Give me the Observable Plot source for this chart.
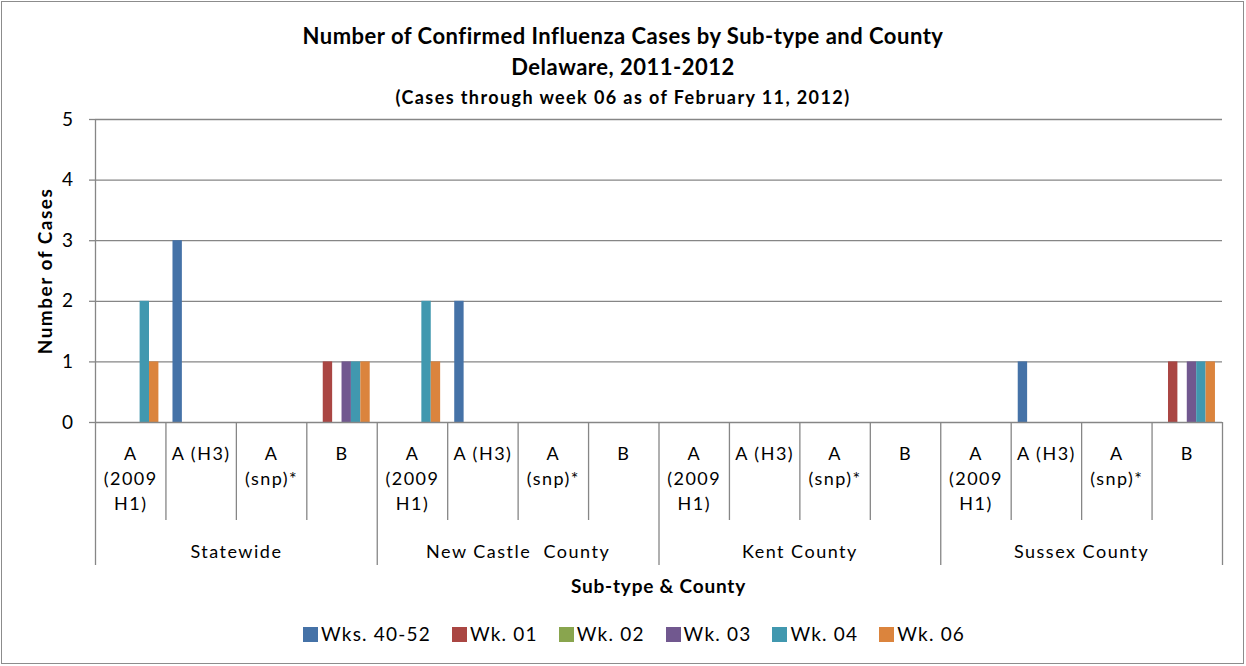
<!DOCTYPE html>
<html>
<head>
<meta charset="utf-8">
<script src="https://cdn.jsdelivr.net/npm/d3@7"></script>
<script src="https://cdn.jsdelivr.net/npm/@observablehq/plot@0.6"></script>
<style>
  html, body { margin: 0; padding: 0; background: #fff; }
  body { width: 1246px; height: 666px; position: relative; overflow: hidden; font-family: Lato, "Open Sans", sans-serif; color: #000; }
  #border { position: absolute; left: 1px; top: 1px; width: 1241px; height: 661px; border: 1px solid #8c8c8c; }
  #title { position: absolute; left: 0; top: 20px; width: 1246px; text-align: center; font-weight: bold; }
  #title div { height: 31px; line-height: 31px; white-space: nowrap; }
  #title .t1 { font-size: 22px; letter-spacing: 0.5px; }
  #title .t3 { font-size: 18px; letter-spacing: 1.4px; }
  #chart { position: absolute; left: 0; top: 108px; }
  #chart text { letter-spacing: 1.5px; }
  #xtitle { position: absolute; left: 95px; width: 1127px; top: 574px; text-align: center; font-weight: bold; font-size: 19px; letter-spacing: 0.8px; line-height: 24px; }
  #legend { position: absolute; left: 303px; top: 622px; display: flex; font-size: 19px; letter-spacing: 1.2px; line-height: 24px; white-space: nowrap; }
  #legend .item { display: flex; align-items: center; margin-right: 21px; }
  #legend .sw { width: 15px; height: 15px; margin-right: 3px; }
</style>
</head>
<body>
<div id="border"></div>
<div id="title">
  <div class="t1">Number of Confirmed Influenza Cases by Sub-type and County</div>
  <div class="t1">Delaware, 2011-2012</div>
  <div class="t3">(Cases through week 06 as of February 11, 2012)</div>
</div>
<div id="chart"></div>
<div id="xtitle">Sub-type &amp; County</div>
<div id="legend"></div>
<script>
// ---- data ----
const counties = ["Statewide", "New Castle  County", "Kent County", "Sussex County"];
const subtypes = ["A (2009 H1)", "A (H3)", "A (snp)*", "B"];
const subtypeTickLabels = ["A\n(2009\nH1)", "A (H3)", "A\n(snp)*", "B"];
const series = ["Wks. 40-52", "Wk. 01", "Wk. 02", "Wk. 03", "Wk. 04", "Wk. 06"];
const colors = ["#4572A7", "#AA4643", "#89A54E", "#71588F", "#4198AF", "#DB843D"];
// values per series, in category order: county x subtype (16 categories)
const wks4052 = [0,3,0,0, 0,2,0,0, 0,0,0,0, 0,1,0,0];
const wk01    = [0,0,0,1, 0,0,0,0, 0,0,0,0, 0,0,0,1];
const wk02    = [0,0,0,0, 0,0,0,0, 0,0,0,0, 0,0,0,0];
const wk03    = [0,0,0,1, 0,0,0,0, 0,0,0,0, 0,0,0,1];
const wk04    = [2,0,0,1, 2,0,0,0, 0,0,0,0, 0,0,0,1];
const wk06    = [1,0,0,1, 1,0,0,0, 0,0,0,0, 0,0,0,1];
const yTicks = [0, 1, 2, 3, 4, 5];

// ---- build tables ----
const seriesValues = [wks4052, wk01, wk02, wk03, wk04, wk06];
const nCat = counties.length * subtypes.length;
const gapWidth = 1.5; // Excel gap width 150%
const slot = 1 / (series.length + gapWidth);
const bars = [];
seriesValues.forEach((vals, s) => {
  vals.forEach((v, c) => {
    bars.push({
      series: series[s],
      county: counties[Math.floor(c / subtypes.length)],
      subtype: subtypes[c % subtypes.length],
      x1: c + slot * (gapWidth / 2 + s),
      x2: c + slot * (gapWidth / 2 + s + 1),
      value: v
    });
  });
});
const cats = d3.range(nCat).map(c => ({x: c + 0.5, label: subtypeTickLabels[c % subtypes.length]}));
const subSeps = d3.range(nCat + 1).filter(i => i % subtypes.length !== 0);
const countySeps = d3.range(0, nCat + 1, subtypes.length);
const countyLabels = counties.map((name, i) => ({x: i * subtypes.length + subtypes.length / 2, name}));

const grey = "#868686";
const plot = Plot.plot({
  width: 1246,
  height: 492,
  marginTop: 11,
  marginLeft: 95,
  marginRight: 24,
  marginBottom: 178,
  style: {fontFamily: "Lato, 'Open Sans', sans-serif", color: "#000", background: "transparent"},
  x: {domain: [0, nCat], axis: null},
  y: {domain: [0, 5], ticks: yTicks, axis: null},
  color: {domain: series, range: colors},
  marks: [
    Plot.ruleY(yTicks.filter(d => d > 0), {stroke: grey, strokeWidth: 1.3}),
    Plot.rectY(bars.filter(d => d.value > 0), {x1: "x1", x2: "x2", y: "value", fill: "series"}),
    Plot.axisY({ticks: yTicks, tickFormat: d3.format("d"), tickSize: 6, tickPadding: 15, fontSize: 19, stroke: grey, strokeWidth: 1.3, label: null}),
    Plot.ruleX([0], {y1: 0, y2: 5, stroke: grey, strokeWidth: 1.3}),
    Plot.ruleY([0], {stroke: grey, strokeWidth: 1.3}),
    Plot.ruleX(subSeps, {x: d => d, y1: 0, y2: 0, insetBottom: -98, stroke: grey, strokeWidth: 1.3}),
    Plot.ruleX(countySeps, {x: d => d, y1: 0, y2: 0, insetBottom: -143, stroke: grey, strokeWidth: 1.3}),
    Plot.text(cats, {x: "x", text: "label", frameAnchor: "bottom", lineAnchor: "top", dy: 20, lineHeight: 1.39, fontSize: 18, fill: "#000"}),
    Plot.text(countyLabels, {x: "x", text: "name", frameAnchor: "bottom", lineAnchor: "middle", dy: 130, fontSize: 18, fill: "#000"}),
    Plot.text(["Number of Cases"], {frameAnchor: "left", textAnchor: "middle", lineAnchor: "middle", rotate: -90, dx: -50, fontSize: 19, fontWeight: "bold", fill: "#000"})
  ]
});
document.getElementById("chart").appendChild(plot);

// legend
const legend = document.getElementById("legend");
series.forEach((s, i) => {
  const item = document.createElement("div");
  item.className = "item";
  item.innerHTML = `<span class="sw" style="background:${colors[i]}"></span><span>${s}</span>`;
  legend.appendChild(item);
});
</script>
</body>
</html>
